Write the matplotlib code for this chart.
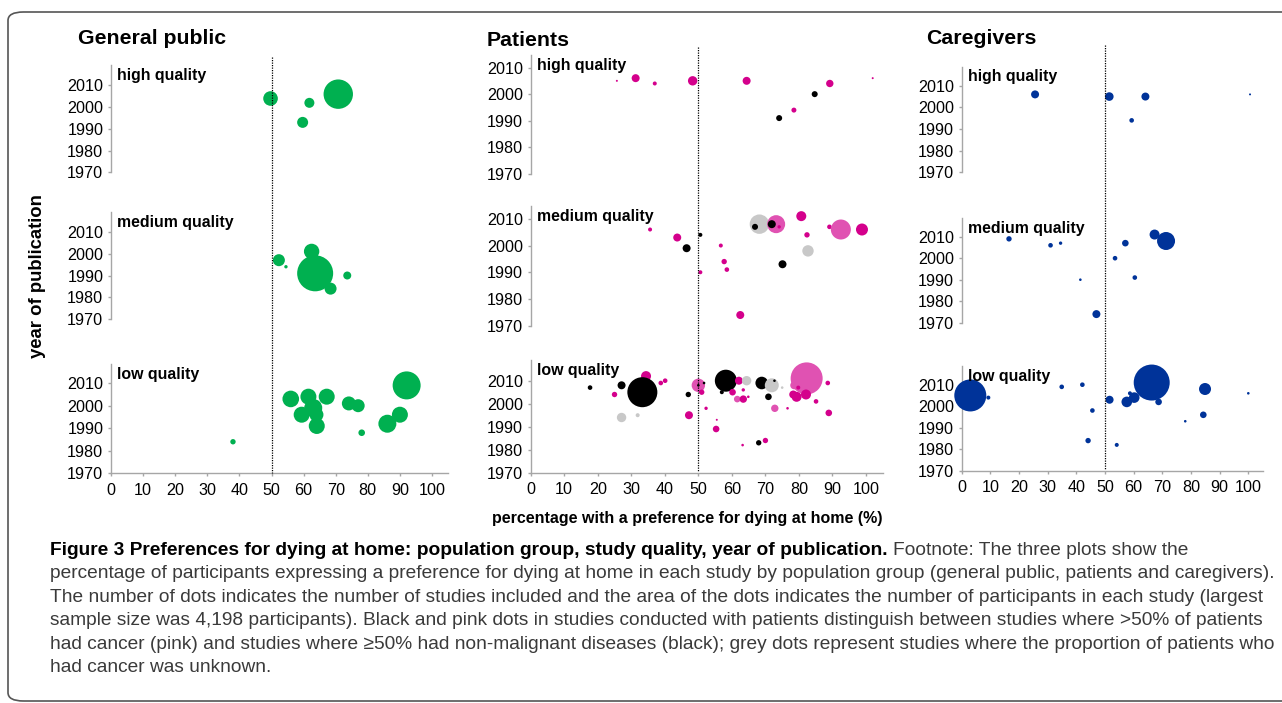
#!/usr/bin/env python3
"""Bubble plots: preference for dying at home by population group, study quality and year."""

import matplotlib

matplotlib.use("Agg")
import matplotlib.pyplot as plt
from matplotlib.lines import Line2D
from matplotlib.patches import FancyBboxPatch
from matplotlib.transforms import blended_transform_factory

W, H = 1282, 703
FONT = "Liberation Sans"

GREEN = "#00b050"
BLUE = "#003399"
COLORS = {"pink": "#d4008c", "lpink": "#e052b2", "black": "#000000", "grey": "#c8c8c8"}

# ---- General public -------------------------------------------------------
GP_HIGH_X = [49.7, 61.8, 59.7, 70.8]
GP_HIGH_YEAR = [2004, 2002, 1993, 2006]
GP_HIGH_N = [691, 324, 392, 2800]

GP_MED_X = [52.3, 54.5, 62.5, 63.6, 68.4, 73.6]
GP_MED_YEAR = [1997, 1994, 2001, 1991, 1984, 1990]
GP_MED_N = [467, 37, 768, 4198, 467, 207]

GP_LOW_X = [38, 56.0, 61.5, 67.2, 59.4, 63, 64, 64.1, 74.1, 77, 78.1, 86.1, 90, 92.1]
GP_LOW_YEAR = [1984, 2003, 2004, 2004, 1996, 1999, 1996, 1991, 2001, 2000, 1988, 1992, 1996, 2009]
GP_LOW_N = [94, 893, 829, 829, 829, 1050, 635, 829, 635, 548, 141, 1050, 829, 2540]

# ---- Patients (pink: >50% cancer, black: >=50% non-malignant, grey: unknown) ----
PT_HIGH_X = [25.7, 31.3, 37, 48.3, 64.4, 74.1, 78.5, 84.7, 89.2, 102]
PT_HIGH_YEAR = [2005, 2006, 2004, 2005, 2005, 1991, 1994, 2000, 2004, 2006]
PT_HIGH_N = [13, 207, 52, 286, 207, 117, 81, 117, 177, 13]
PT_HIGH_GROUP = ["pink", "pink", "pink", "pink", "pink", "black", "pink", "black", "pink", "pink"]

PT_MED_X = [35.6, 43.7, 46.5, 50.6, 50.6, 56.7, 57.7, 58.5, 62.5, 68.2, 66.9, 73.2, 71.9,
            74.1, 75.1, 80.7, 82.4, 82.7, 89.1, 92.5, 98.8]
PT_MED_YEAR = [2006, 2003, 1999, 2004, 1990, 2000, 1994, 1991, 1974, 2008, 2007, 2008, 2008,
               2007, 1993, 2011, 2004, 1998, 2007, 2006, 2006]
PT_MED_N = [52, 207, 207, 52, 52, 52, 94, 69, 207, 1219, 117, 1050, 207,
            37, 207, 324, 94, 421, 69, 1296, 467]
PT_MED_GROUP = ["pink", "pink", "black", "black", "pink", "pink", "pink", "pink", "pink", "grey",
                "black", "lpink", "black", "pink", "black", "pink", "pink", "grey", "pink",
                "lpink", "pink"]

PT_LOW_X = [17.7, 25, 27.1, 27.1, 31.9, 34.4, 35.5, 33.3, 38.8, 40.1, 47, 47.2,
            50, 50, 51.7, 51, 52.3, 55.5, 55.3, 58.2, 62.1, 64.4, 57, 60.2, 63.4, 61.6, 63.4,
            64.9, 68.9, 71.9, 72.7, 70.9, 75, 72.8, 76.6, 63.2, 68, 70, 82.3, 78.6, 78.3,
            79.3, 82.1, 79.8, 85.1, 88.6, 88.9]
PT_LOW_YEAR = [2007, 2004, 2008, 1994, 1995, 2012, 2003, 2005, 2009, 2010, 2004, 1995,
               2008, 2008, 2009, 2005, 1998, 1993, 1989, 2010, 2010, 2010, 2005, 2005, 2006,
               2002, 2002, 2003, 2009, 2008, 2010, 2003, 2007, 1998, 1998, 1982, 1983, 1984,
               2011, 2008, 2004, 2003, 2004, 2007, 2001, 2009, 1996]
PT_LOW_N = [69, 94, 207, 286, 52, 324, 207, 2916, 69, 69, 94, 207,
            582, 22, 22, 94, 37, 13, 141, 1568, 207, 286, 52, 141, 37, 141, 177,
            22, 514, 635, 22, 141, 22, 177, 22, 22, 94, 94, 3318, 207, 207,
            324, 324, 52, 69, 69, 141]
PT_LOW_GROUP = ["black", "pink", "black", "grey", "grey", "pink", "pink", "black", "pink", "pink",
                "black", "pink", "lpink", "black", "black", "pink", "pink", "pink", "pink",
                "black", "pink", "grey", "black", "pink", "pink", "lpink", "pink", "pink",
                "black", "grey", "black", "black", "grey", "lpink", "pink", "pink", "black",
                "pink", "lpink", "lpink", "pink", "pink", "pink", "pink", "pink", "pink", "pink"]

# ---- Caregivers -----------------------------------------------------------
CG_HIGH_X = [25.6, 51.5, 64.1, 59.3, 100.6]
CG_HIGH_YEAR = [2006, 2005, 2005, 1994, 2006]
CG_HIGH_N = [207, 240, 207, 69, 13]

CG_MED_X = [16.5, 31, 34.5, 41.4, 47, 53.5, 57.1, 60.4, 67.3, 71.3]
CG_MED_YEAR = [2009, 2006, 2007, 1990, 1974, 2000, 2007, 1991, 2011, 2008]
CG_MED_N = [94, 69, 37, 22, 207, 69, 141, 69, 324, 1050]

CG_LOW_X = [3, 9.3, 34.9, 42.1, 45.6, 44.1, 51.6, 54.1, 57.6, 60.2, 58.7, 66.3, 68.7,
            78, 84.9, 84.3, 100]
CG_LOW_YEAR = [2005, 2004, 2009, 2010, 1998, 1984, 2003, 1982, 2002, 2004, 2006, 2011, 2002,
               1993, 2008, 1996, 2006]
CG_LOW_N = [3318, 52, 69, 69, 69, 94, 207, 52, 364, 364, 52, 4198, 141,
            22, 467, 141, 22]

QUALITY_LABELS = ["high quality", "medium quality", "low quality"]
YEAR_TICKS = [1970, 1980, 1990, 2000, 2010]
PCT_TICKS = list(range(0, 101, 10))
MAX_N = 4198

# layout in pixels: x of 0 %, px per %, (bottom px, top px, ylim top) per row
COLUMNS = [
    ("General public", 78, 39, 111.0, 3.21, [(172.3, 65.5, 2019.2), (319.3, 212, 2019.0), (473.3, 364, 2018.5)], (57, 473)),
    ("Patients", 487, 41, 530.7, 3.353, [(174, 55, 2014.7), (325.7, 206, 2014.8), (472.7, 360, 2019.0)], (47, 472)),
    ("Caregivers", 926, 38, 961.7, 2.866, [(172.3, 66.7, 2018.8), (322.7, 218, 2018.7), (470.7, 366, 2018.7)], (45, 470)),
]


def bubble_size(n):
    # area ~ participants; largest study (4198) drawn with an 18 px radius
    return [(1.44 * 18) ** 2 * v / MAX_N for v in n]


def style_axis(ax, show_x):
    for side in ("top", "right"):
        ax.spines[side].set_visible(False)
    ax.spines["left"].set_color("#a6a6a6")
    ax.spines["left"].set_linewidth(1.0)
    ax.set_xlim(0, 105)
    ax.set_yticks(YEAR_TICKS)
    ax.tick_params(axis="y", length=2.5, width=1.0, color="#a6a6a6", pad=3, labelsize=11.6)
    if show_x:
        ax.spines["bottom"].set_color("#a6a6a6")
        ax.spines["bottom"].set_linewidth(1.0)
        ax.set_xticks(PCT_TICKS)
        ax.tick_params(axis="x", length=2.5, width=1.0, color="#a6a6a6", pad=4.5, labelsize=11.6)
    else:
        ax.spines["bottom"].set_visible(False)
        ax.set_xticks([])
    for label in ax.get_xticklabels() + ax.get_yticklabels():
        label.set_family(FONT)


def main():
    fig = plt.figure(figsize=(W / 100, H / 100), dpi=100)

    panels = [
        [(GP_HIGH_X, GP_HIGH_YEAR, GP_HIGH_N, [GREEN] * len(GP_HIGH_X)),
         (GP_MED_X, GP_MED_YEAR, GP_MED_N, [GREEN] * len(GP_MED_X)),
         (GP_LOW_X, GP_LOW_YEAR, GP_LOW_N, [GREEN] * len(GP_LOW_X))],
        [(PT_HIGH_X, PT_HIGH_YEAR, PT_HIGH_N, [COLORS[g] for g in PT_HIGH_GROUP]),
         (PT_MED_X, PT_MED_YEAR, PT_MED_N, [COLORS[g] for g in PT_MED_GROUP]),
         (PT_LOW_X, PT_LOW_YEAR, PT_LOW_N, [COLORS[g] for g in PT_LOW_GROUP])],
        [(CG_HIGH_X, CG_HIGH_YEAR, CG_HIGH_N, [BLUE] * len(CG_HIGH_X)),
         (CG_MED_X, CG_MED_YEAR, CG_MED_N, [BLUE] * len(CG_MED_X)),
         (CG_LOW_X, CG_LOW_YEAR, CG_LOW_N, [BLUE] * len(CG_LOW_X))],
    ]

    for (title, tx, ty, x0, ppu, rows, dash), col_data in zip(COLUMNS, panels):
        fig.text(tx / W, 1 - ty / H, title, fontsize=15.3, fontweight="bold",
                 family=FONT, va="center", ha="left")
        low_ax = None
        for row, ((bottom, top, ytop), (xs, ys, ns, cs), qlabel) in enumerate(zip(rows, col_data, QUALITY_LABELS)):
            width = 105 * ppu
            ax = fig.add_axes([x0 / W, 1 - bottom / H, width / W, (bottom - top) / H])
            ax.patch.set_alpha(0)
            ax.set_ylim(1970, ytop)
            style_axis(ax, show_x=(row == 2))
            ax.scatter(xs, ys, s=bubble_size(ns), c=cs, linewidths=0, clip_on=False, zorder=3)
            ax.annotate(qlabel, xy=(0, 1), xycoords="axes fraction", xytext=(4.5, -2),
                        textcoords="offset points", ha="left", va="top",
                        fontsize=11.4, fontweight="bold", family=FONT)
            low_ax = ax
        trans = blended_transform_factory(low_ax.transData, fig.transFigure)
        fig.add_artist(Line2D([50, 50], [1 - dash[0] / H, 1 - dash[1] / H], transform=trans,
                              color="black", linewidth=0.9, linestyle=(0, (1, 1)), zorder=1))

    fig.text(38 / W, 1 - 276 / H, "year of publication", rotation=90, fontsize=13.3,
             fontweight="bold", family=FONT, ha="center", va="center")
    fig.text(687 / W, 1 - 518 / H, "percentage with a preference for dying at home (%)",
             fontsize=11.5, fontweight="bold", family=FONT, ha="center", va="center")

    # frame around figure + caption
    fig.add_artist(FancyBboxPatch((8 / W, 1 - 701 / H), 1400 / W, 689 / H,
                                  boxstyle="round,pad=0,rounding_size=0.012",
                                  transform=fig.transFigure, fill=False,
                                  edgecolor="#555555", linewidth=1.2))

    bold_part = "Figure 3 Preferences for dying at home: population group, study quality, year of publication."
    lines = [
        "Footnote: The three plots show the",
        "percentage of participants expressing a preference for dying at home in each study by population group (general public, patients and caregivers).",
        "The number of dots indicates the number of studies included and the area of the dots indicates the number of participants in each study (largest",
        "sample size was 4,198 participants). Black and pink dots in studies conducted with patients distinguish between studies where >50% of patients",
        "had cancer (pink) and studies where \u226550% had non-malignant diseases (black); grey dots represent studies where the proportion of patients who",
        "had cancer was unknown.",
    ]
    baselines = [555, 578, 602, 625, 649, 672]
    renderer = fig.canvas.get_renderer()
    probe = fig.text(0, 0, lines[1], fontsize=10, family=FONT)
    size = 10 * 1228 / probe.get_window_extent(renderer).width
    probe.remove()

    bold = fig.text(50 / W, 1 - baselines[0] / H, bold_part, fontsize=size, fontweight="bold",
                    family=FONT, va="baseline", color="black")
    bx1 = bold.get_window_extent(renderer).x1
    fig.text(bx1 / W + 5 / W, 1 - baselines[0] / H, lines[0], fontsize=size, family=FONT,
             va="baseline", color="#3a3a3a")
    for text, yb in zip(lines[1:], baselines[1:]):
        fig.text(50 / W, 1 - yb / H, text, fontsize=size, family=FONT, va="baseline",
                 color="#3a3a3a")

    fig.savefig("out.png", dpi=100)
    plt.close(fig)


if __name__ == "__main__":
    main()
